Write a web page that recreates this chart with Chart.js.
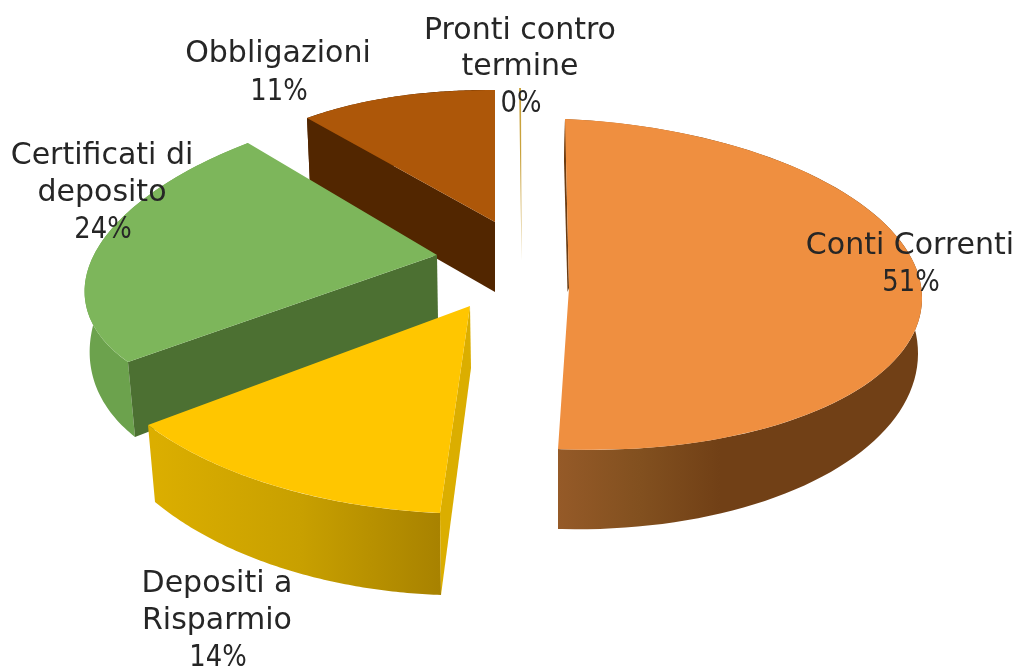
<!DOCTYPE html>
<html>
<head>
<meta charset="utf-8">
<style>html,body{margin:0;padding:0;background:#fff}canvas{display:block;filter:blur(0.5px)}</style>
<script src="https://cdn.jsdelivr.net/npm/chart.js@4"></script>
</head>
<body>
<canvas id="c" width="1019" height="668"></canvas>
<script>
const categories = ["Conti Correnti","Depositi a Risparmio","Certificati di deposito","Obbligazioni","Pronti contro termine"];
const shares = [51,14,24,11,0.1];
const labelLines = [["Conti Correnti"],["Depositi a","Risparmio"],["Certificati di","deposito"],["Obbligazioni"],["Pronti contro","termine"]];
const faceColors = ["#EF8F40","#FFC600","#7DB65B","#AD5709","#C9A23C"];

// Perspective look of each slice: top face and bottom face, each fixed by a centre and two rim points.
const views = [
 {top:{c:[561,284],S:[565,119],at:[90,922,300]}, bot:{c:[561,345],S:[564,161],at:[90,918,355]},
  apex:[569,288], apexB:[567.5,292], notch:[[565,119],[569,288],[558,449]],
  side:"#6B3C12", wall:[[558,"#955A28"],[640,"#82501F"],[720,"#714016"]]},
 {top:{c:[470,306],S:[440,513],E:[148,425]}, bot:{c:[471,368],S:[441,595],E:[155,502]},
  side:"#DBAE00", wall:[[155,"#DBAE00"],[300,"#C8A000"],[440,"#A88200"]]},
 {top:{c:[437,255],S:[128,362],E:[248,143]}, bot:{c:[438,300],S:[135,437],at:[270,92,330]},
  apexB:[438,320],
  side:"#4C7032", wall:[[90,"#6CA24D"],[135,"#6CA24D"]]},
 {top:{c:[495,222],S:[307,118],E:[495,90]}, bot:{c:[495,292],S:[310,186],E:[495,160]},
  side:"#522600", wall:[[300,"#522600"],[495,"#522600"]]},
 {top:{c:[521.5,260],E:[521,88],at:[270,221,260]}, bot:{c:[521.5,260],E:[521,88],at:[270,221,260]},
  side:"#C9A23C", wall:[[500,"#C9A23C"],[540,"#C9A23C"]]}
];
const drawOrder = [3,4,2,0,1];
const labelPlaces = [[910,246,37],[217,584,37],[102,156,37],[278,54,38],[520,31,36.5]];

function unit(deg){const t=deg*Math.PI/180;return [Math.sin(t),-Math.cos(t)];}
function solve(view,startDeg,endDeg){
  const pts=[];
  if(view.S) pts.push([startDeg,view.S]);
  if(view.E) pts.push([endDeg,view.E]);
  if(view.at) pts.push([view.at[0],[view.at[1],view.at[2]]]);
  const [a1,p1]=pts[0],[a2,p2]=pts[1];
  const u1=unit(a1),u2=unit(a2);
  const d1=[p1[0]-view.c[0],p1[1]-view.c[1]],d2=[p2[0]-view.c[0],p2[1]-view.c[1]];
  const det=u1[0]*u2[1]-u2[0]*u1[1];
  return {
    a:(d1[0]*u2[1]-d2[0]*u1[1])/det, c:(d2[0]*u1[0]-d1[0]*u2[0])/det,
    b:(d1[1]*u2[1]-d2[1]*u1[1])/det, d:(d2[1]*u1[0]-d1[1]*u2[0])/det,
    cx:view.c[0], cy:view.c[1]
  };
}
function rim(m,deg){const u=unit(deg);return [m.cx+m.a*u[0]+m.c*u[1],m.cy+m.b*u[0]+m.d*u[1]];}
function poly(ctx,pts,fill){
  ctx.beginPath();pts.forEach((p,i)=>i?ctx.lineTo(p[0],p[1]):ctx.moveTo(p[0],p[1]));ctx.closePath();
  ctx.fillStyle=fill;ctx.fill();
}

const solidPie = {
  id:"solidPie",
  beforeDatasetsDraw(chart){
    const ctx=chart.ctx, arcs=chart.getDatasetMeta(0).data;
    drawOrder.forEach(i=>{
      const el=arcs[i], v=views[i], r=el.outerRadius;
      const sDeg=(el.startAngle+Math.PI/2)*180/Math.PI, eDeg=(el.endAngle+Math.PI/2)*180/Math.PI;
      const top=solve(v.top,sDeg,eDeg), bot=solve(v.bot,sDeg,eDeg);
      const apex=v.apex||v.top.c, apexB=v.apexB||v.bot.c;
      // outer wall
      const g=ctx.createLinearGradient(v.wall[0][0],0,v.wall[v.wall.length-1][0],0);
      const x0=v.wall[0][0],x1=v.wall[v.wall.length-1][0];
      v.wall.forEach(s=>g.addColorStop((s[0]-x0)/(x1-x0),s[1]));
      const up=[],down=[];
      for(let k=0;k<=90;k++){const a=sDeg+(eDeg-sDeg)*k/90;up.push(rim(top,a));down.unshift(rim(bot,a));}
      ctx.save();
      if(v.notch){ctx.beginPath();ctx.rect(v.notch[2][0],0,1019,668);ctx.clip();}
      poly(ctx,up.concat(down),g);
      ctx.restore();
      // cut face at the start of the slice
      poly(ctx,[apex,rim(top,sDeg),rim(bot,sDeg),apexB],v.side);
      // top face, drawn by the library's arc element
      ctx.save();
      if(v.notch){
        const n=v.notch;
        ctx.beginPath();ctx.moveTo(n[0][0],n[0][1]-5);ctx.lineTo(1019,n[0][1]-5);ctx.lineTo(1019,668);ctx.lineTo(n[2][0],668);
        ctx.lineTo(n[2][0],n[2][1]);ctx.lineTo(n[1][0],n[1][1]);ctx.lineTo(n[0][0],n[0][1]);ctx.closePath();ctx.clip();
      }
      const a=top.a/r,b=top.b/r,c=top.c/r,d=top.d/r;
      ctx.transform(a,b,c,d,top.cx-(a*el.x+c*el.y),top.cy-(b*el.x+d*el.y));
      el.draw(ctx);
      ctx.restore();
    });
    return false;
  },
  afterDraw(chart){
    const ctx=chart.ctx, total=shares.reduce((s,x)=>s+x,0);
    ctx.save();
    ctx.font='30px "DejaVu Sans"';
    ctx.fillStyle="#262626";
    ctx.textAlign="center";ctx.textBaseline="middle";
    labelLines.forEach((lines,i)=>{
      const [x,y,lh]=labelPlaces[i];
      lines.forEach((t,k)=>ctx.fillText(t,x,y+k*lh));
      const pct=Math.round(shares[i]/total*100)+"%";
      ctx.fillText(pct,x+1,y+lines.length*lh,ctx.measureText(pct).width*0.86);
    });
    ctx.restore();
  }
};

new Chart(document.getElementById("c"),{
  type:"pie",
  data:{labels:categories,datasets:[{data:shares,backgroundColor:faceColors,borderWidth:0}]},
  options:{responsive:false,animation:false,plugins:{legend:{display:false},tooltip:{enabled:false}}},
  plugins:[solidPie]
});
</script>
</body>
</html>
